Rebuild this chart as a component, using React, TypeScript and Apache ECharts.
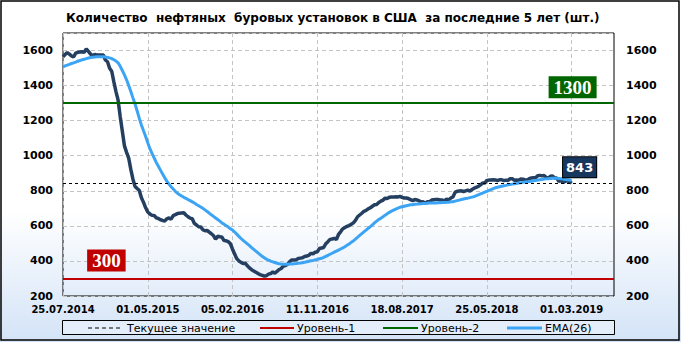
import React, { useEffect, useRef } from 'react';
import * as echarts from 'echarts';

const TITLE = 'Количество  нефтяных  буровых установок в США  за последние 5 лет (шт.)';
const START_UTC = Date.UTC(2014, 6, 25);
const WEEK_COUNT = 261;
const LABEL_STEP = 40;

// Weekly count of US oil rigs
const RIGS = [
  1565, 1577, 1588, 1579, 1569, 1563, 1585, 1590, 1592, 1593,
  1590, 1609, 1595, 1580, 1568, 1578, 1574, 1574, 1575, 1575,
  1546, 1536, 1499, 1482, 1421, 1366, 1317, 1223, 1140, 1056,
  1019, 986, 922, 866, 825, 813, 802, 760, 734, 703,
  679, 668, 660, 659, 646, 642, 635, 631, 628, 640,
  645, 638, 659, 664, 670, 672, 674, 675, 662, 652,
  644, 641, 614, 605, 595, 594, 578, 572, 574, 564,
  555, 545, 524, 541, 538, 536, 516, 515, 510, 498,
  467, 439, 413, 400, 392, 386, 387, 372, 360, 350,
  343, 336, 328, 322, 318, 314, 316, 325, 328, 337,
  330, 341, 351, 357, 371, 374, 381, 396, 406, 406,
  407, 414, 416, 418, 425, 428, 432, 443, 441, 450,
  452, 471, 474, 477, 498, 510, 523, 525, 529, 522,
  551, 566, 583, 591, 597, 602, 609, 617, 631, 652,
  662, 672, 683, 688, 697, 703, 712, 720, 722, 733,
  741, 747, 758, 756, 763, 765, 764, 766, 765, 768,
  763, 759, 759, 756, 749, 744, 750, 748, 743, 736,
  737, 729, 738, 738, 747, 749, 751, 751, 747, 747,
  742, 752, 747, 759, 765, 791, 798, 799, 800, 796,
  800, 804, 797, 808, 815, 820, 825, 834, 844, 844,
  859, 861, 862, 863, 862, 858, 863, 863, 858, 861,
  859, 869, 869, 860, 862, 860, 867, 866, 863, 861,
  869, 873, 875, 874, 886, 888, 885, 887, 877, 873,
  883, 885, 873, 873, 852, 862, 847, 854, 857, 853,
  843,
];

// EMA(26) line
const EMA26 = [
  1507, 1512, 1517, 1521, 1526, 1530, 1534, 1539, 1543, 1547,
  1550, 1554, 1557, 1560, 1562, 1563, 1564, 1565, 1565, 1564,
  1563, 1561, 1558, 1554, 1547, 1540, 1530, 1510, 1486, 1461,
  1433, 1400, 1366, 1330, 1295, 1255, 1213, 1175, 1142, 1110,
  1074, 1040, 1014, 988, 962, 940, 918, 896, 874, 855,
  838, 823, 810, 797, 786, 778, 770, 763, 757, 750,
  744, 737, 730, 722, 715, 708, 700, 691, 682, 673,
  663, 654, 645, 636, 627, 617, 609, 601, 593, 584,
  576, 565, 553, 540, 528, 517, 507, 497, 487, 476,
  466, 456, 446, 436, 426, 418, 410, 404, 399, 395,
  391, 387, 384, 382, 381, 381, 381, 382, 383, 384,
  385, 387, 388, 390, 392, 395, 398, 401, 403, 406,
  409, 412, 415, 420, 426, 432, 438, 444, 450, 456,
  462, 468, 474, 481, 489, 497, 506, 514, 524, 535,
  546, 556, 566, 576, 586, 595, 606, 617, 627, 636,
  644, 652, 661, 669, 677, 684, 690, 696, 701, 706,
  709, 712, 715, 718, 720, 721, 723, 724, 725, 726,
  727, 728, 729, 730, 730, 731, 731, 732, 732, 733,
  733, 734, 735, 737, 738, 741, 744, 747, 750, 753,
  756, 758, 761, 764, 767, 772, 777, 782, 787, 792,
  797, 802, 807, 812, 817, 820, 823, 826, 829, 831,
  834, 836, 838, 840, 842, 844, 846, 848, 850, 851,
  853, 855, 857, 859, 861, 863, 865, 867, 868, 869,
  870, 871, 872, 871, 870, 869, 867, 865, 863, 861,
  859,
];

const LEVEL_1 = 300;
const LEVEL_2 = 1300;
const Y_MIN = 200;
const Y_MAX = 1700;
const Y_STEP = 200;
const LEGEND_LABELS = ['Текущее значение', 'Уровень-1', 'Уровень-2', 'EMA(26)'];

const C_RIGS = '#243f60';
const C_EMA = '#3ba4f4';
const C_L1 = '#c00000';
const C_L2 = '#006600';
const C_CUR = '#17375e';

const pad = (n: number) => (n < 10 ? '0' + n : String(n));
const DATES: string[] = Array.from({ length: WEEK_COUNT }, (_, i) => {
  const d = new Date(START_UTC + i * 7 * 86400000);
  return `${pad(d.getUTCDate())}.${pad(d.getUTCMonth() + 1)}.${d.getUTCFullYear()}`;
});

const CURRENT = RIGS[RIGS.length - 1];
const LAST_IDX = RIGS.length - 1;

export default function App() {
  const ref = useRef<HTMLDivElement>(null);

  useEffect(() => {
    document.body.style.margin = '0';
    if (!ref.current) return;
    const chart = echarts.init(ref.current, undefined, { renderer: 'svg' });

    const yLabelFmt = (v: number) => (v === Y_MAX ? '' : String(v));
    const boxLabel = (bg: string, offset: number[], border?: boolean, sans?: boolean) => ({
      show: true,
      position: 'inside',
      offset,
      color: '#fff',
      fontWeight: 'bold',
      fontSize: sans ? 13 : 19,
      fontFamily: sans ? 'DejaVu Sans' : 'Liberation Serif',
      backgroundColor: bg,
      borderColor: border ? '#000' : bg,
      borderWidth: border ? 1 : 0,
      padding: sans ? [4, 3, 3, 3] : [2, 5, 1, 5],
    });

    const legendY = 328;
    const option: any = {
      animation: false,
      textStyle: { fontFamily: 'DejaVu Sans' },
      title: {
        text: TITLE,
        left: 66,
        top: 12,
        padding: 0,
        textStyle: { fontSize: 12, fontWeight: 'bold', color: '#000', fontFamily: 'DejaVu Sans' },
      },
      grid: {
        left: 63,
        right: 67,
        top: 33,
        bottom: 46,
        show: true,
        borderColor: '#000',
        borderWidth: 1,
        backgroundColor: 'transparent',
      },
      xAxis: {
        type: 'category',
        data: DATES,
        boundaryGap: false,
        axisLine: { show: false },
        axisTick: { show: false },
        axisLabel: {
          interval: (i: number) => i % LABEL_STEP === 0,
          color: '#000',
          fontWeight: 'bold',
          fontSize: 10,
          margin: 8,
          fontFamily: 'DejaVu Sans',
        },
        splitLine: {
          show: true,
          interval: (i: number) => i % LABEL_STEP === 0,
          lineStyle: { color: '#c4c4c4', type: [4, 3], width: 1 },
        },
      },
      yAxis: [
        {
          type: 'value',
          min: Y_MIN,
          max: Y_MAX,
          interval: Y_STEP,
          position: 'left',
          axisLine: { show: false },
          axisTick: { show: false },
          axisLabel: { formatter: yLabelFmt, color: '#000', fontWeight: 'bold', fontSize: 11, margin: 10 },
          splitLine: { show: true, lineStyle: { color: '#c4c4c4', type: [4, 3], width: 1 } },
        },
        {
          type: 'value',
          min: Y_MIN,
          max: Y_MAX,
          interval: Y_STEP,
          position: 'right',
          axisLine: { show: false },
          axisTick: { show: false },
          axisLabel: { formatter: yLabelFmt, color: '#000', fontWeight: 'bold', fontSize: 11, margin: 12 },
          splitLine: { show: false },
        },
      ],
      series: [
        {
          name: 'Количество буровых установок',
          type: 'line',
          data: RIGS,
          showSymbol: false,
          symbol: 'none',
          lineStyle: { color: C_RIGS, width: 3.5 },
          itemStyle: { color: C_RIGS },
          z: 3,
          markLine: {
            silent: true,
            symbol: ['none', 'none'],
            label: { show: false },
            data: [
              { yAxis: CURRENT, name: LEGEND_LABELS[0], lineStyle: { color: '#000', type: [3, 3], width: 1 } },
              { yAxis: LEVEL_1, name: LEGEND_LABELS[1], lineStyle: { color: C_L1, type: 'solid', width: 2 } },
              { yAxis: LEVEL_2, name: LEGEND_LABELS[2], lineStyle: { color: C_L2, type: 'solid', width: 2 } },
            ],
          },
          markPoint: {
            silent: true,
            symbol: 'circle',
            symbolSize: 0,
            data: [
              { coord: [DATES[LAST_IDX], CURRENT], value: CURRENT, label: { ...boxLabel(C_CUR, [8, -16], true, true), formatter: String(CURRENT) } },
              { coord: [DATES[LAST_IDX], LEVEL_2], value: LEVEL_2, label: { ...boxLabel(C_L2, [1, -16]), formatter: String(LEVEL_2) } },
              { coord: [DATES[20], LEVEL_1], value: LEVEL_1, label: { ...boxLabel(C_L1, [1, -18]), formatter: String(LEVEL_1) } },
            ],
          },
        },
        {
          name: LEGEND_LABELS[3],
          type: 'line',
          data: EMA26,
          showSymbol: false,
          symbol: 'none',
          lineStyle: { color: C_EMA, width: 3 },
          itemStyle: { color: C_EMA },
          z: 4,
        },
      ],
      graphic: [
        {
          type: 'rect',
          silent: true,
          z: 100,
          shape: { x: 1, y: 1, width: 678, height: 339 },
          style: { fill: 'none', stroke: '#000', lineWidth: 1.5 },
        },
        {
          type: 'rect',
          silent: true,
          shape: { x: 62.5, y: 320.5, width: 552, height: 14 },
          style: { fill: '#e3eefa', stroke: '#000', lineWidth: 1 },
        },
        { type: 'line', silent: true, shape: { x1: 88, y1: legendY, x2: 121, y2: legendY }, style: { stroke: '#000', lineDash: [4, 3], lineWidth: 1 } },
        { type: 'text', silent: true, x: 127, y: legendY, style: { text: LEGEND_LABELS[0], fill: '#000', font: '11px "DejaVu Sans"', verticalAlign: 'middle' } },
        { type: 'line', silent: true, shape: { x1: 260, y1: legendY, x2: 294, y2: legendY }, style: { stroke: C_L1, lineWidth: 2 } },
        { type: 'text', silent: true, x: 297, y: legendY, style: { text: LEGEND_LABELS[1], fill: '#000', font: '11px "DejaVu Sans"', verticalAlign: 'middle' } },
        { type: 'line', silent: true, shape: { x1: 383, y1: legendY, x2: 418, y2: legendY }, style: { stroke: C_L2, lineWidth: 2 } },
        { type: 'text', silent: true, x: 421, y: legendY, style: { text: LEGEND_LABELS[2], fill: '#000', font: '11px "DejaVu Sans"', verticalAlign: 'middle' } },
        { type: 'line', silent: true, shape: { x1: 507, y1: legendY, x2: 542, y2: legendY }, style: { stroke: C_EMA, lineWidth: 3 } },
        { type: 'text', silent: true, x: 545, y: legendY, style: { text: LEGEND_LABELS[3], fill: '#000', font: '11px "DejaVu Sans"', verticalAlign: 'middle' } },
      ],
    };

    chart.setOption(option);
    return () => chart.dispose();
  }, []);

  return (
    <div
      ref={ref}
      style={{
        width: 681,
        height: 342,
        background: 'linear-gradient(to bottom, #ffffff 0%, #ffffff 62%, #d3e3f7 100%)',
      }}
    />
  );
}
